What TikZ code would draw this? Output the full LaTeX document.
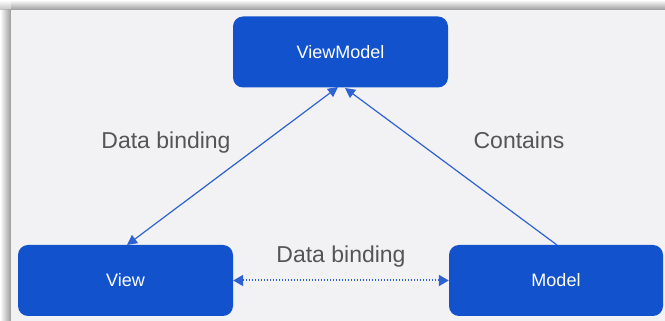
\documentclass[tikz,border=0pt]{standalone}
\usepackage{fontspec}
\setmainfont{Liberation Sans}
\usetikzlibrary{arrows.meta}
\definecolor{boxblue}{HTML}{1252CC}
\definecolor{arrblue}{HTML}{2C62D2}
\definecolor{labgray}{HTML}{555555}
\definecolor{panel}{HTML}{F2F2F4}
\definecolor{shadowgray}{HTML}{9A9A9A}
\begin{document}
\begin{tikzpicture}[x=1pt,y=1pt,
  blockbox/.style={fill=boxblue, draw=none, rounded corners=10pt, text=white,
    font=\fontsize{18}{20}\selectfont, minimum width=215pt, minimum height=71pt, inner sep=0pt},
  lab/.style={text=labgray, font=\fontsize{23}{26}\selectfont, inner sep=0pt, anchor=base},
  conn/.style={draw=arrblue, line width=1.2pt},
  tip/.style={-{Triangle[length=10pt,width=10pt]}}
]
\useasboundingbox (0,0) rectangle (665,321);
% shadow frame
\fill[white] (0,0) rectangle (665,321);
\shade[left color=white, right color=shadowgray] (0,0) rectangle (11,311);
\shade[top color=white, bottom color=shadowgray] (11,311) rectangle (665,321);
\shade[top color=white, bottom color=shadowgray, opacity=0.6] (0,311) rectangle (11,321);
\fill[panel] (11,0) rectangle (665,311);
% nodes
\node[blockbox] (vm) at (340.5,269) {ViewModel};
\node[blockbox] (v) at (125.5,40.5) {View};
\node[blockbox, minimum width=214pt] (m) at (556,40.5) {Model};
% connectors
\coordinate (vtop) at (127,76);
\coordinate (vmL) at (338,234);
\coordinate (vmR) at (345,233);
\coordinate (mtop) at (557,76);
\draw[conn, {Triangle[length=10pt,width=10pt]}-{Triangle[length=10pt,width=10pt]}] (vtop) -- (vmL);
\draw[conn, tip] (mtop) -- (vmR);
\draw[conn, line width=2pt, dash pattern=on 1.6pt off 1.4pt, {Triangle[length=10pt,width=11pt]}-{Triangle[length=10pt,width=11pt]}] (v.east) -- (m.west);
% labels
\node[lab] (l1) at (166,172) {Data binding};
\node[lab] (l2) at (519,172) {Contains};
\node[lab] (l3) at (341,58) {Data binding};
\end{tikzpicture}
\end{document}
